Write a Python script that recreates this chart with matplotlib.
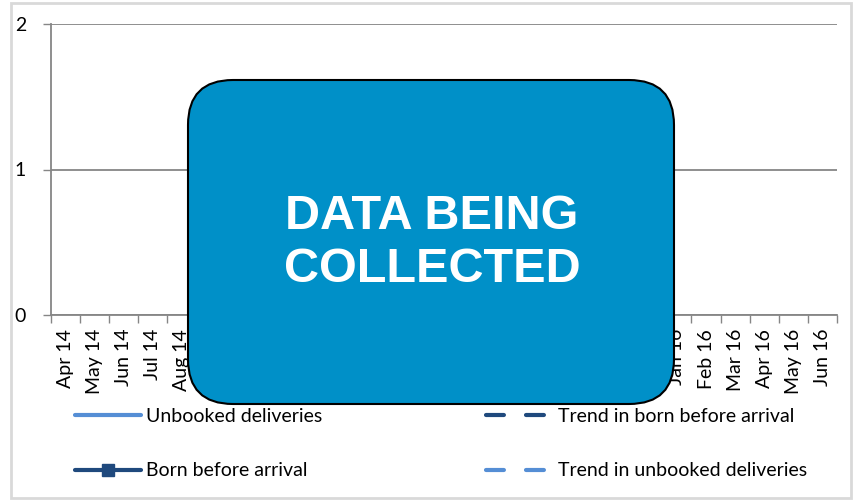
import matplotlib
matplotlib.use("Agg")
import matplotlib.pyplot as plt
from matplotlib.patches import FancyBboxPatch, Rectangle
import numpy as np

# categories (months) and series -- no data collected yet
months = ["Apr 14", "May 14", "Jun 14", "Jul 14", "Aug 14", "Sep 14", "Oct 14",
          "Nov 14", "Dec 14", "Jan 15", "Feb 15", "Mar 15", "Apr 15", "May 15",
          "Jun 15", "Jul 15", "Aug 15", "Sep 15", "Oct 15", "Nov 15", "Dec 15",
          "Jan 16", "Feb 16", "Mar 16", "Apr 16", "May 16", "Jun 16"]
unbooked = []
born_before_arrival = []
trend_born = []
trend_unbooked = []
y_ticks = [0, 1, 2]

plt.rcParams["font.family"] = ["Lato", "DejaVu Sans"]

W, H = 855, 501
fig = plt.figure(figsize=(W / 100, H / 100), dpi=100)
fig.patch.set_facecolor("white")

ax = fig.add_axes([51 / W, 1 - 315 / H, (837 - 51) / W, (315 - 24) / H])

light = "#558ED5"
dark = "#1F497D"
dash = (0, (4.3, 5.3))

x = np.arange(len(months))
l1, = ax.plot(x[:len(unbooked)], unbooked, color=light, lw=3,
              solid_capstyle="round", label="Unbooked deliveries")
l2, = ax.plot(x[:len(born_before_arrival)], born_before_arrival, color=dark,
              lw=3, marker="s", ms=8, solid_capstyle="round", label="Born before arrival")
l3, = ax.plot(x[:len(trend_born)], trend_born, color=dark, lw=3,
              ls=dash, dash_capstyle="round", label="Trend in born before arrival")
l4, = ax.plot(x[:len(trend_unbooked)], trend_unbooked, color=light, lw=3,
              ls=dash, dash_capstyle="round", label="Trend in unbooked deliveries")

ax.set_xlim(-0.5, len(months) - 0.5)
ax.set_ylim(0, 2)
ax.set_yticks(y_ticks)
ax.set_yticklabels([str(v) for v in y_ticks], fontsize=14)
ax.set_xticks(x)
ax.set_xticklabels(months, rotation=90, fontsize=14)
ax.set_xticks(np.arange(-0.5, len(months)), minor=True)
ax.tick_params(axis="x", which="major", length=0, pad=10)
ax.tick_params(axis="x", which="minor", length=6, color="#868686", width=1)
ax.tick_params(axis="y", length=6, color="#868686", width=1, pad=12)
ax.grid(axis="y", color="#868686", lw=1.3)
ax.set_axisbelow(True)
for s in ["top", "right"]:
    ax.spines[s].set_visible(False)
for s in ["left", "bottom"]:
    ax.spines[s].set_color("#868686")
    ax.spines[s].set_linewidth(1.3)

fig.legend(handles=[l1, l2, l3, l4], loc="upper left",
           bbox_to_anchor=(57 / W, 1 - 390 / H), ncol=2, frameon=False,
           fontsize=14, handlelength=3.4, labelspacing=1.95, columnspacing=8.4,
           handletextpad=0.3)

# overlay: border and "data being collected" box
ov = fig.add_axes([0, 0, 1, 1])
ov.set_xlim(0, W)
ov.set_ylim(H, 0)
ov.axis("off")
ov.add_patch(Rectangle((11, 3), 840, 495, fill=False, ec="#D9D9D9", lw=2))
r = 45
ov.add_patch(FancyBboxPatch((188 + r, 80 + r), 486 - 2 * r, 324 - 2 * r,
                            boxstyle=f"round,pad={r},rounding_size={r}",
                            fc="#0090C8", ec="black", lw=1.5))
ov.text(432, 243, "DATA BEING\nCOLLECTED", color="white", fontsize=35,
        fontweight="bold", family="Liberation Sans", ha="center", va="center",
        linespacing=1.25)

fig.savefig("out.png", dpi=100)
